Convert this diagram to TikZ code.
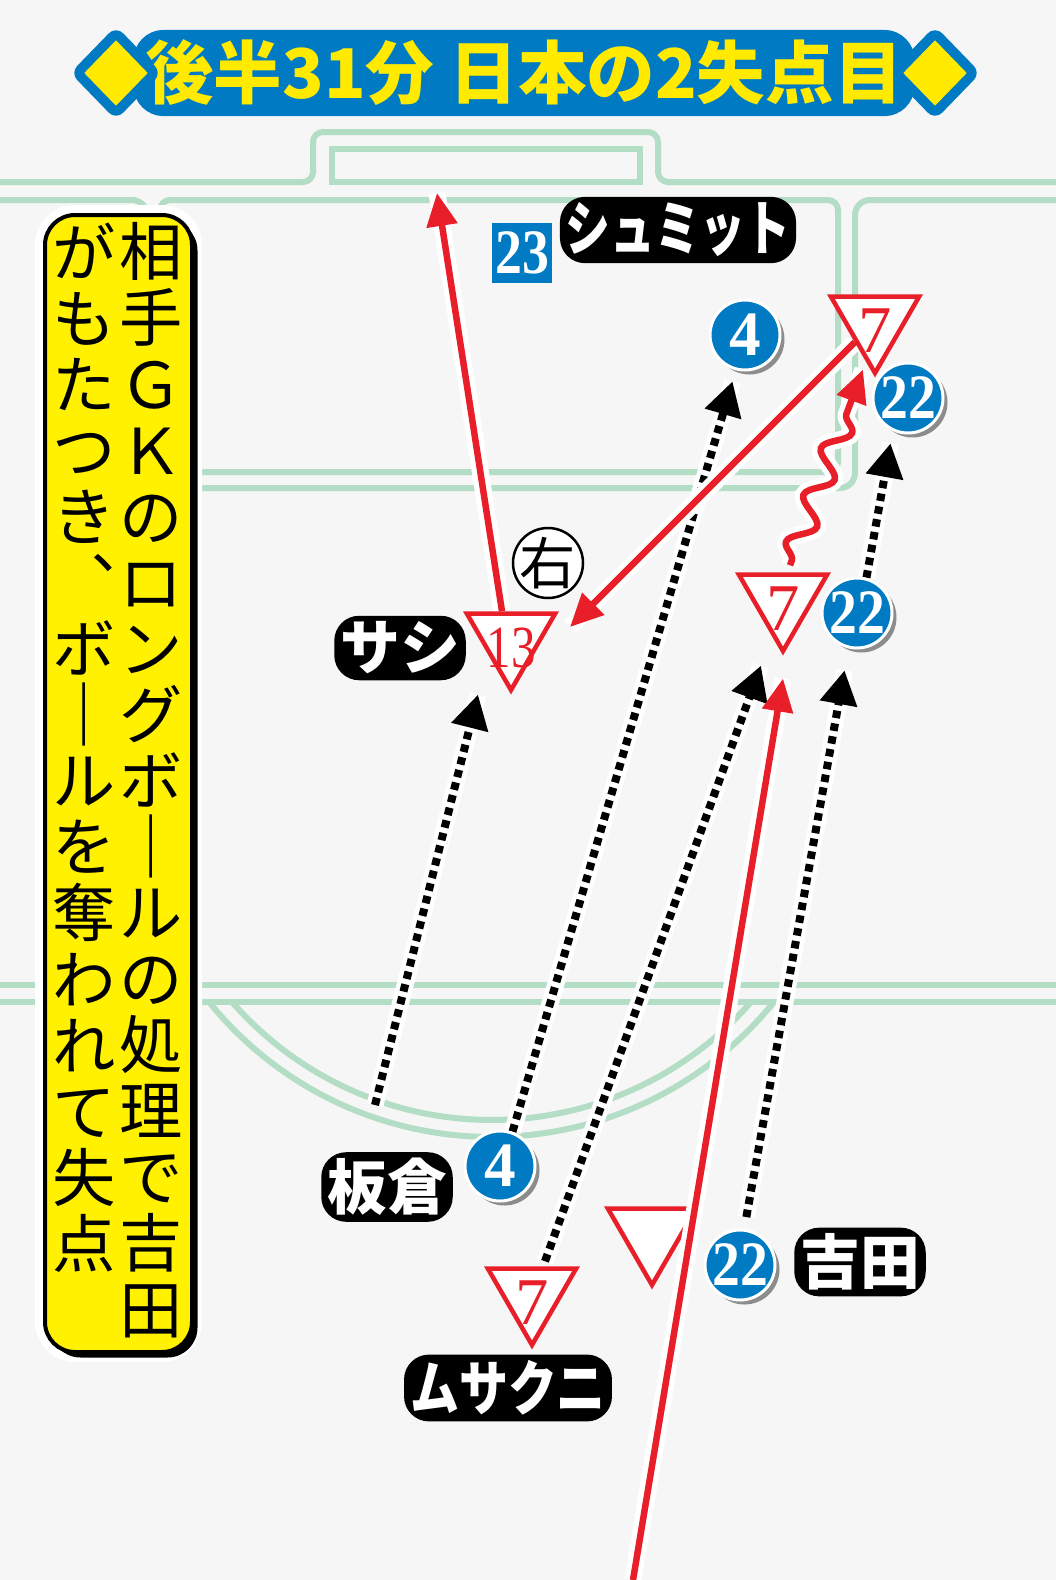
\documentclass[tikz,border=0pt]{standalone}
\usepackage{fontspec}
\usepackage{graphicx}
\usetikzlibrary{shapes.geometric,arrows.meta,decorations.pathmorphing,shadows}
\newfontfamily\cjk{Noto Sans CJK JP}
\newfontfamily\numfont{Liberation Serif}
\definecolor{pitch}{RGB}{180,221,197}
\definecolor{jblue}{RGB}{0,122,194}
\definecolor{rred}{RGB}{232,30,40}
\definecolor{tyellow}{RGB}{255,234,0}
\definecolor{boxyellow}{RGB}{255,241,0}
\definecolor{paper}{RGB}{246,246,246}
\pgfdeclarelayer{field}
\pgfdeclarelayer{moves}
\pgfsetlayers{field,moves,main}
\newcommand\vbar{｜}
\tikzset{
  pitchline/.style={draw=pitch, line width=0.6mm},
  jpn/.style={circle, fill=jblue, draw=white, line width=0.3mm, minimum size=7mm, inner sep=0pt,
    drop shadow={shadow xshift=0.45mm, shadow yshift=-0.45mm, fill=black!45, opacity=1},
    label={[text=white, font=\numfont\bfseries\fontsize{18}{18}\selectfont]center:#1}},
  opp/.style={regular polygon, regular polygon sides=3, shape border rotate=180, draw=rred,
    line width=0.45mm, fill=white, minimum size=10.2mm, inner sep=0pt,
    label={[text=rred, font=\numfont\fontsize{19}{19}\selectfont, yshift=-0.9mm]center:#1}},
  plname/.style={font=\cjk\bfseries\fontsize{17}{17}\selectfont, text=white, fill=black,
    rounded corners=2.5mm, inner sep=0.6mm},
  titlebar/.style={font=\cjk\bfseries\fontsize{19.5}{20}\selectfont, text=tyellow, fill=jblue,
    rounded corners=3mm, inner xsep=1.2mm, inner ysep=1mm},
  titlemark/.style={diamond, fill=tyellow, minimum width=6.4mm, minimum height=6.6mm, inner sep=0pt,
    preaction={draw=jblue, line width=2mm, line join=round}},
  textbox/.style={draw=black, line width=0.4mm, fill=boxyellow, rounded corners=3mm,
    minimum width=14.7mm, minimum height=113.7mm, preaction={draw=white, line width=2mm},
    drop shadow={shadow xshift=0.55mm, shadow yshift=-0.55mm, fill=black, opacity=1}},
  vcol/.style={font=\cjk\fontsize{18}{18.8}\selectfont, align=center, inner sep=0pt, anchor=north},
  pass/.style={draw=rred, line width=0.65mm, -{Triangle[length=3.3mm,width=3mm]},
    preaction={draw=white, line width=1.7mm, -}},
  run/.style={draw=black, line width=0.8mm, dash pattern=on 0.75mm off 0.55mm,
    -{Triangle[length=3.4mm,width=3.6mm]}, preaction={draw=white, solid, line width=1.7mm, -}}
}
\begin{document}
\begin{tikzpicture}[x=0.1mm,y=-0.1mm]
\useasboundingbox (0,0) rectangle (1056,1580);

\begin{pgfonlayer}{field}
  \fill[paper] (0,0) rectangle (1056,1580);
  % goal area and penalty area
  \draw[pitchline, rounded corners=1mm] (0,182) -- (313,182) -- (313,132) -- (658,132) -- (658,182) -- (1056,182);
  \draw[pitchline] (332,149) rectangle (640,182);
  \draw[pitchline, rounded corners=1.5mm] (0,200) -- (147,200) -- (147,488) -- (855,488) -- (855,200) -- (1056,200);
  \draw[pitchline, rounded corners=1mm] (160,200) rectangle (838,472);
  % lower lines and arc
  \draw[pitchline] (0,985) -- (1056,985);
  \draw[pitchline] (0,1002) -- (1056,1002);
  \draw[pitchline] plot[domain=38.9:141.1, samples=60] ({491.5+363*cos(\x)},{774+363*sin(\x)});
  \draw[pitchline] plot[domain=41.1:138.9, samples=60] ({491.5+344.3*cos(\x)},{775.7+344.3*sin(\x)});

  \node[textbox] (box) at (118.5,783.5) {};
  \node[vcol] (colr) at (151,222) {相\\手\\Ｇ\\Ｋ\\の\\ロ\\ン\\グ\\ボ\\\vbar\\ル\\の\\処\\理\\で\\吉\\田};
  \node[vcol] (coll) at (84,222) {が\\も\\た\\つ\\き\\︑\\ボ\\\vbar\\ル\\を\\奪\\わ\\れ\\て\\失\\点};

  \node[opp={}] (tx) at (652,1234) {};
\end{pgfonlayer}

% title
\node[titlebar] (title) at (524,73) {後半31分\hspace{0.22em}日本の2失点目};
\node[titlemark] (markl) at (116,73) {};
\node[titlemark] (markr) at (935,73) {};

% players
\node[jpn=4] (b4t) at (745,335) {};
\node[jpn={\scalebox{0.88}[1]{22}}] (b22t) at (908,398) {};
\node[jpn={\scalebox{0.88}[1]{22}}] (b22m) at (857,613) {};
\node[jpn=4] (b4i) at (500,1166) {};
\node[jpn={\scalebox{0.88}[1]{22}}] (b22y) at (740,1265) {};
\node[opp=7] (t7t) at (875,322) {};
\node[opp=7] (t7m) at (783,600) {};
\node[opp={\fontsize{17}{17}\selectfont\scalebox{0.82}[1]{13}}] (t13) at (511,639) {};
\node[opp=7] (t7b) at (532,1294) {};
\node[fill=jblue, minimum size=6mm, inner sep=0pt,
  label={[text=white, font=\numfont\bfseries\fontsize{18}{18}\selectfont]center:\scalebox{0.85}[1]{23}}] (sq23) at (522,253) {};
\node[circle, draw=black, line width=0.25mm, fill=white, minimum size=7mm, inner sep=0pt,
  label={[font=\cjk\fontsize{16}{16}\selectfont]center:右}] (migi) at (548,563) {};

% names
\node[plname] (lsasi) at (400,648) {サシ};
\node[plname] (litakura) at (387,1187) {板倉};
\node[plname] (lmusa) at (508,1388) {\scalebox{0.82}[1]{ムサクニ}};
\node[plname] (lschmidt) at (678,230) {\scalebox{0.75}[1]{シュミット}};
\node[plname] (lyoshida) at (860,1262) {吉田};

\coordinate (goalpt) at (437,193);
\coordinate (lowstart) at (633,1580);
\coordinate (sasistart) at (375,1105);

\begin{pgfonlayer}{moves}
  \draw[run] (sasistart) -- ([xshift=-3.3mm]t13.south);
  \draw[run] (b4i.70) -- ([yshift=-1.2mm]b4t.250);
  \draw[run] ([shift={(1.3mm,0.5mm)}]t7b.north) -- ([shift={(-2.2mm,-1mm)}]t7m.south);
  \draw[run] ([yshift=1.2mm]b22y.80) -- ([yshift=-2.3mm]b22m.250);
  \draw[run] (b22m.75) -- ([shift={(-0.5mm,-1.1mm)}]b22t.250);

  \draw[pass] ([xshift=-0.9mm]t13.north) -- (goalpt);
  \draw[pass] (t7t.south west) -- ([shift={(2.7mm,1.2mm)}]t13.east);
  \draw[pass] (lowstart) -- ([yshift=-2.3mm]t7m.south);
  \draw[pass, decorate, decoration={snake, segment length=5mm, amplitude=1.2mm, pre length=0.5mm, post length=3.8mm}]
    ([shift={(0.7mm,0.7mm)}]t7m.north) -- ([shift={(-1.2mm,0.8mm)}]t7t.south);
\end{pgfonlayer}
\end{tikzpicture}
\end{document}
